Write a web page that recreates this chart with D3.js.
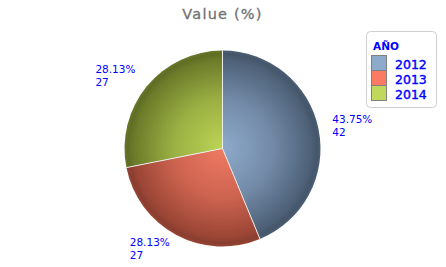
<!DOCTYPE html>
<html><head><meta charset="utf-8">
<script src="https://cdn.jsdelivr.net/npm/d3@7"></script>
<style>body{margin:0;background:#fff}svg{display:block}</style>
</head><body>
<svg id="c" width="446" height="267"></svg>
<script>
const categories = ["2012", "2013", "2014"];
const values = [42, 27, 27];
const percentLabels = ["43.75%", "28.13%", "28.13%"];
const legendTitle = "AÑO";
const chartTitle = "Value (%)";
const lightColors = ["#8eaacb", "#f07a63", "#bcd555"];
const darkColors = ["#4e6178", "#9c4636", "#6c7c2a"];
const swatchColors = ["#8eaacb", "#fb7a64", "#c0d85c"];

const svg = d3.select("#c");
const cx = 222.5, cy = 148.5, r = 98;

svg.append("text").attr("x", cx).attr("y", 19).attr("text-anchor", "middle")
  .attr("font-family", "DejaVu Sans").attr("font-size", 14.5).attr("letter-spacing", 1.2)
  .attr("stroke", "#727272").attr("stroke-width", 0.3)
  .attr("fill", "#727272").text(chartTitle);

const defs = svg.append("defs");
categories.forEach((c, i) => {
  const g = defs.append("radialGradient").attr("id", "g" + i)
    .attr("gradientUnits", "userSpaceOnUse").attr("cx", 0).attr("cy", 0).attr("r", r)
    .attr("fx", 0).attr("fy", 0);
  const mid = d3.interpolateRgb(lightColors[i], darkColors[i]);
  g.append("stop").attr("offset", 0).attr("stop-color", lightColors[i]);
  g.append("stop").attr("offset", 0.5).attr("stop-color", mid(0.42));
  g.append("stop").attr("offset", 0.9).attr("stop-color", darkColors[i]);
  g.append("stop").attr("offset", 0.965).attr("stop-color", d3.color(darkColors[i]).darker(0.35));
  g.append("stop").attr("offset", 1).attr("stop-color", d3.color(darkColors[i]).darker(0.1));
});

const pie = d3.pie().sort(null).value(d => d)(values);
const arc = d3.arc().innerRadius(0).outerRadius(r);
const gp = svg.append("g").attr("transform", `translate(${cx},${cy})`);
gp.selectAll("path.s").data(pie).join("path").attr("class", "s")
  .attr("d", arc).attr("fill", (d, i) => `url(#g${i})`);
gp.selectAll("line.sep").data(pie).join("line").attr("class", "sep")
  .attr("x1", 0).attr("y1", 0)
  .attr("x2", d => Math.sin(d.startAngle) * r)
  .attr("y2", d => -Math.cos(d.startAngle) * r)
  .attr("stroke", "#eeeeee").attr("stroke-width", 1);

// labels
const LR = 114;
pie.forEach((d, i) => {
  const a = (d.startAngle + d.endAngle) / 2;
  const x = cx + Math.sin(a) * LR;
  const y = cy - Math.cos(a) * LR;
  const right = Math.sin(a) >= 0;
  const t = svg.append("text").attr("font-family", "DejaVu Sans").attr("font-size", 10.5)
    .attr("fill", "#0000ff").attr("text-anchor", "start");
  const w = 39;
  const x0 = right ? x - 2 : x - w;
  t.append("tspan").attr("x", x0).attr("y", y - 3).text(percentLabels[i]);
  t.append("tspan").attr("x", x0).attr("y", y + 9.5).text(values[i]);
});

// legend
const lg = svg.append("g");
lg.append("rect").attr("x", 366.5).attr("y", 31.5).attr("width", 70).attr("height", 76)
  .attr("rx", 4).attr("fill", "#fff").attr("stroke", "#cfcfcf");
lg.append("text").attr("x", 373).attr("y", 50).attr("font-family", "DejaVu Sans")
  .attr("font-weight", "bold").attr("font-size", 10.5).attr("fill", "#0000ff").text(legendTitle);
categories.forEach((c, i) => {
  const y = 55.5 + i * 15;
  lg.append("rect").attr("x", 371.5).attr("y", y).attr("width", 15).attr("height", 15)
    .attr("fill", swatchColors[i]).attr("stroke", "#808080");
  lg.append("text").attr("x", 395).attr("y", y + 13).attr("font-family", "DejaVu Sans")
    .attr("font-size", 12.5).attr("stroke", "#0000ff").attr("stroke-width", 0.4)
    .attr("fill", "#0000ff").text(c);
});
</script>
</body></html>
